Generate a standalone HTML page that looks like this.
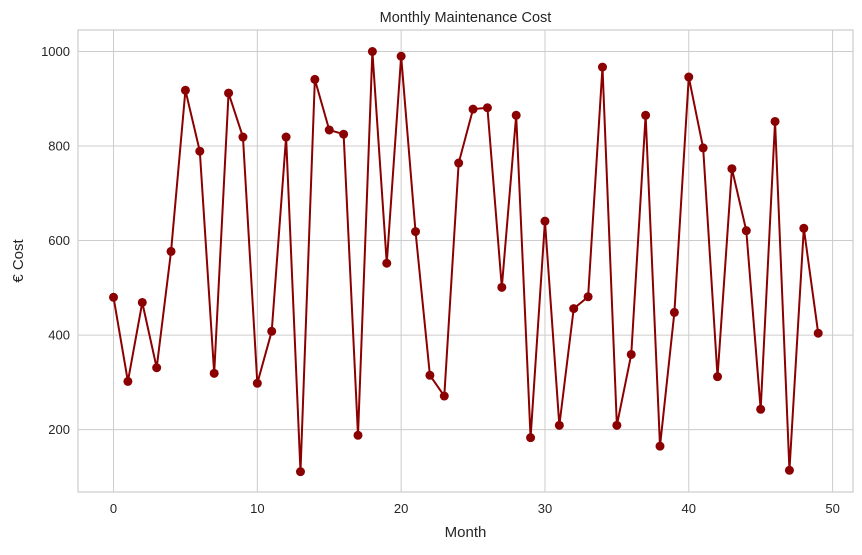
<!DOCTYPE html>
<html><head><meta charset="utf-8"><style>
body{margin:0;background:#fff;font-family:"Liberation Sans",sans-serif}
svg text{font-family:"Liberation Sans",sans-serif;fill:#262626}
</style></head><body>
<svg id="chart" width="862" height="550"></svg>
<script>
const months=[...Array(50).keys()];
const costs=[480,302,469,331,577,918,789,319,912,819,298,408,819,111,941,834,825,188,1000,552,990,619,315,271,764,878,881,501,865,183,641,209,456,481,967,209,359,865,165,448,946,796,312,752,621,243,852,114,626,404];
const xTicks=[0,10,20,30,40,50];
const yTicks=[200,400,600,800,1000];
const L=78,R=853,T=30,B=492;
const xmin=-2.47,xmax=51.42,ymin=68,ymax=1045.5;
const xs=v=>L+(v-xmin)/(xmax-xmin)*(R-L);
const ys=v=>B-(v-ymin)/(ymax-ymin)*(B-T);
const svg=document.getElementById('chart');
const NS='http://www.w3.org/2000/svg';
function mk(t,a,p){const e=document.createElementNS(NS,t);for(const k in a)e.setAttribute(k,a[k]);(p||svg).appendChild(e);return e;}
xTicks.forEach(t=>{
 const g=mk('line',{x1:xs(t),x2:xs(t),y1:T,y2:B,stroke:'#cccccc','stroke-width':1});
 
 
 const l=mk('text',{x:xs(t),y:B+21,'text-anchor':'middle','font-size':13});
 l.textContent=t;
 
 
});
yTicks.forEach(t=>{
 const g=mk('line',{x1:L,x2:R,y1:ys(t),y2:ys(t),stroke:'#cccccc','stroke-width':1});
 
 
 const l=mk('text',{x:L-8,y:ys(t)+4.5,'text-anchor':'end','font-size':13});
 l.textContent=t;
 
 
});
const frame=mk('rect',{x:L,y:T,width:R-L,height:B-T,fill:'none',stroke:'#cccccc','stroke-width':1.2});


const line=mk('polyline',{points:months.map((m,i)=>xs(m)+','+ys(costs[i])).join(' '),fill:'none',stroke:'#8b0000','stroke-width':2});


months.forEach((m,i)=>{
 const c=mk('circle',{cx:xs(m),cy:ys(costs[i]),r:4.5,fill:'#8b0000'});
 
 
});
const ti=mk('text',{x:(L+R)/2,y:22,'text-anchor':'middle','font-size':14.5});
ti.textContent='Monthly Maintenance Cost';


const xl=mk('text',{x:(L+R)/2,y:537,'text-anchor':'middle','font-size':15});
xl.textContent='Month';


const yl=mk('text',{x:0,y:0,'text-anchor':'middle','font-size':15,transform:'translate(23,'+((T+B)/2)+') rotate(-90)'});
yl.textContent='€ Cost';


</script>
</body></html>
